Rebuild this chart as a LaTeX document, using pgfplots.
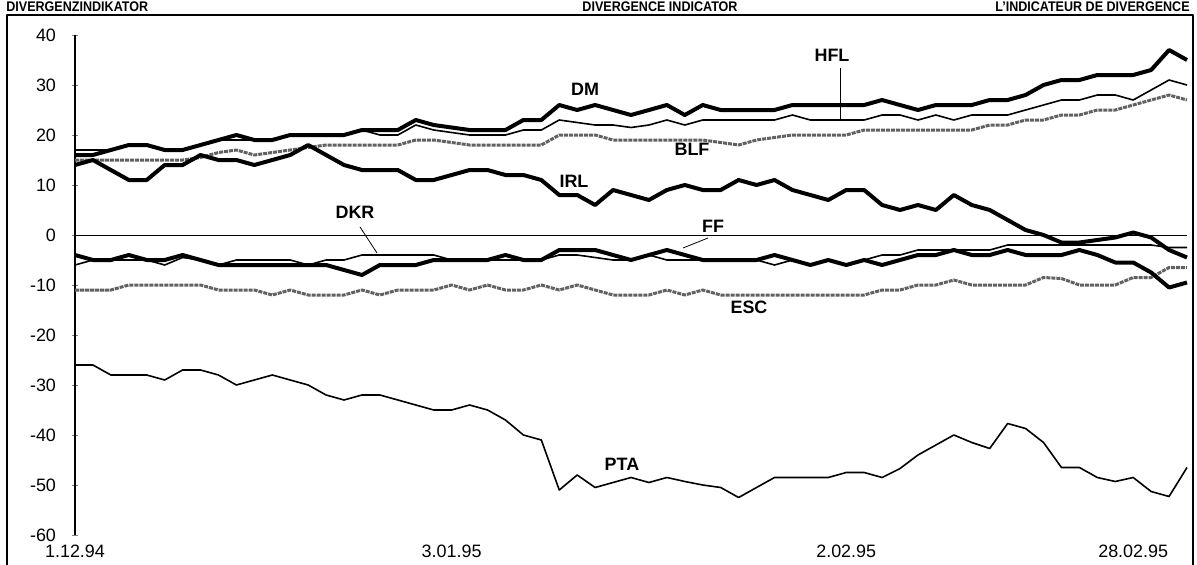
\documentclass[border=0pt]{standalone}
\usepackage{pgfplots}
\pgfplotsset{compat=1.18}
\usepackage{pgfplotstable}
\usepackage{fontspec}
\setmainfont{Liberation Sans}

% daily indicator values (index 0 = 1.12.94)
\pgfplotstableread{
i  DM   HFL  BLF  IRL  FF    DKR  ESC  PTA
0  16   17   15   14   -4    -6   -11  -26
1  16   17   15   15   -5    -5   -11  -26
2  17   17   15   13   -5    -5   -11  -28
3  18   18   15   11   -4    -5   -10  -28
4  18   18   15   11   -5    -5   -10  -28
5  17   17   15   14   -5    -6   -10  -29
6  17   17   15   14   -4    -4.5 -10  -27
7  18   18   15.5 16   -5    -5   -10  -27
8  19   19   16.5 15   -6    -6   -11  -28
9  20   19   17   15   -6    -5   -11  -30
10 19   19   16   14   -6    -5   -11  -29
11 19   19   16.5 15   -6    -5   -12  -28
12 20   20   17   16   -6    -5   -11  -29
13 20   20   17.5 18   -6    -6   -12  -30
14 20   20   18   16   -6    -5   -12  -32
15 20   20   18   14   -7    -5   -12  -33
16 21   21   18   13   -8    -4   -11  -32
17 21   20   18   13   -6    -4   -12  -32
18 21   20   18   13   -6    -4   -11  -33
19 23   22   19   11   -6    -4   -11  -34
20 22   21   19   11   -5    -4   -11  -35
21 21.5 20.5 18.5 12   -5    -5   -10  -35
22 21   20   18   13   -5    -5   -11  -34
23 21   20   18   13   -5    -5   -10  -35
24 21   20   18   12   -4    -5   -11  -37
25 23   21   18   12   -5    -5   -11  -40
26 23   21   18   11   -5    -5   -10  -41
27 26   23   20   8    -3    -4   -11  -51
28 25   22.5 20   8    -3    -4   -10  -48
29 26   22   20   6    -3    -4.5 -11  -50.5
30 25   22   19   9    -4    -5   -12  -49.5
31 24   21.5 19   8    -5    -5   -12  -48.5
32 25   22   19   7    -4    -4   -12  -49.5
33 26   23   19   9    -3    -5   -11  -48.5
34 24   22   19   10   -4    -5   -12  -49.3
35 26   23   19   9    -5    -5   -11  -50
36 25   23   18.5 9    -5    -5   -12  -50.5
37 25   23   18   11   -5    -5   -12  -52.5
38 25   23   19   10   -5    -5   -12  -50.5
39 25   23   19.5 11   -4    -6   -12  -48.5
40 26   24   20   9    -5    -5   -12  -48.5
41 26   23   20   8    -6    -6   -12  -48.5
42 26   23   20   7    -5    -5   -12  -48.5
43 26   23   20   9    -6    -6   -12  -47.5
44 26   23   21   9    -5    -5   -12  -47.5
45 27   24   21   6    -6    -4   -11  -48.5
46 26   24   21   5    -5    -4   -11  -46.7
47 25   23   21   6    -4    -3   -10  -44
48 26   24   21   5    -4    -3   -10  -42
49 26   23   21   8    -3    -3   -9   -40
50 26   24   21   6    -4    -3   -10  -41.5
51 27   24   22   5    -4    -3   -10  -42.7
52 27   24   22   3    -3    -2   -10  -37.7
53 28   25   23   1    -4    -2   -10  -38.7
54 30   26   23   0    -4    -2   -8.5 -41.5
55 31   27   24   -1.5 -4    -2   -8.7 -46.5
56 31   27   24   -1.5 -3    -2   -10  -46.5
57 32   28   25   -1   -4    -2   -10  -48.5
58 32   28   25   -0.5 -5.5  -2   -10  -49.3
59 32   27   26   0.5  -5.5  -2   -8.5 -48.5
60 33   29   27   -0.5 -7.5  -2   -8.5 -51.3
61 37   31   28   -3   -10.5 -2.5 -6.5 -52.3
62 35   30   27   -4.5 -9.5  -2.5 -6.5 -46.5
}\divdata

\begin{document}
\begin{tikzpicture}[line join=round]
\useasboundingbox (0,0) rectangle (598.5bp,282.5bp);
\draw[line width=1bp] (3.5bp,-5bp) rectangle (596.5bp,275bp);

% header above the frame
\begin{scope}[every node/.style={font=\bfseries\fontsize{7}{8}\selectfont, inner sep=0, xscale=0.9}]
\node[anchor=base west] at (3bp,276.6bp) {DIVERGENZINDIKATOR};
\node[anchor=base] at (330bp,276.6bp) {DIVERGENCE INDICATOR};
\node[anchor=base east] at (595bp,276.6bp) {L'INDICATEUR DE DIVERGENCE};
\end{scope}

\begin{axis}[
  at={(37.5bp,15bp)}, anchor=south west,
  scale only axis, width=556bp, height=250bp,
  xmin=0, xmax=62, ymin=-60, ymax=40,
  axis y line*=left, axis x line*=bottom,
  x axis line style={draw=none},
  y axis line style={line width=0.75bp},
  xtick={0,21,43,59},
  xticklabels={1.12.94,3.01.95,2.02.95,28.02.95},
  xtick style={draw=none},
  ytick={-60,-50,...,40},
  ytick style={line width=0.5bp},
  major tick length=3bp, tick align=center,
  tick label style={font=\fontsize{9}{10}\selectfont},
  /pgf/number format/assume math mode=true,
  yticklabel style={xshift=-4.5bp},
  clip=false,
]
\addplot[black, line width=0.5bp] coordinates {(0,0) (62,0)};
% grey dotted
\addplot[black!62, line width=1.5bp, dash pattern=on 2bp off 0.5bp] table[x=i,y=BLF]{\divdata};
\addplot[black!62, line width=1.5bp, dash pattern=on 2bp off 0.5bp] table[x=i,y=ESC]{\divdata};
% thin
\addplot[black, line width=0.8bp] table[x=i,y=HFL]{\divdata};
\addplot[black, line width=0.8bp] table[x=i,y=DKR]{\divdata};
\addplot[black, line width=0.8bp] table[x=i,y=PTA]{\divdata};
% thick
\addplot[black, line width=2bp] table[x=i,y=DM]{\divdata};
\addplot[black, line width=2bp] table[x=i,y=IRL]{\divdata};
\addplot[black, line width=2bp] table[x=i,y=FF]{\divdata};
\end{axis}

% series names and leaders
\begin{scope}[every node/.style={font=\bfseries\fontsize{9}{10}\selectfont, inner sep=0}]
\node at (416bp,255bp) {HFL};
\node at (292.5bp,238bp) {DM};
\node at (346bp,208bp) {BLF};
\node at (287bp,192bp) {IRL};
\node at (177.5bp,176.5bp) {DKR};
\node at (356.5bp,169.5bp) {FF};
\node at (374.5bp,129bp) {ESC};
\node at (311bp,50.5bp) {PTA};
\end{scope}
\draw[line width=0.4bp] (420bp,248.5bp) -- (420bp,223bp);
\draw[line width=0.4bp] (180bp,169bp) -- (188.5bp,156bp);
\draw[line width=0.4bp] (354bp,163.5bp) -- (341.5bp,158.5bp);
\end{tikzpicture}
\end{document}
